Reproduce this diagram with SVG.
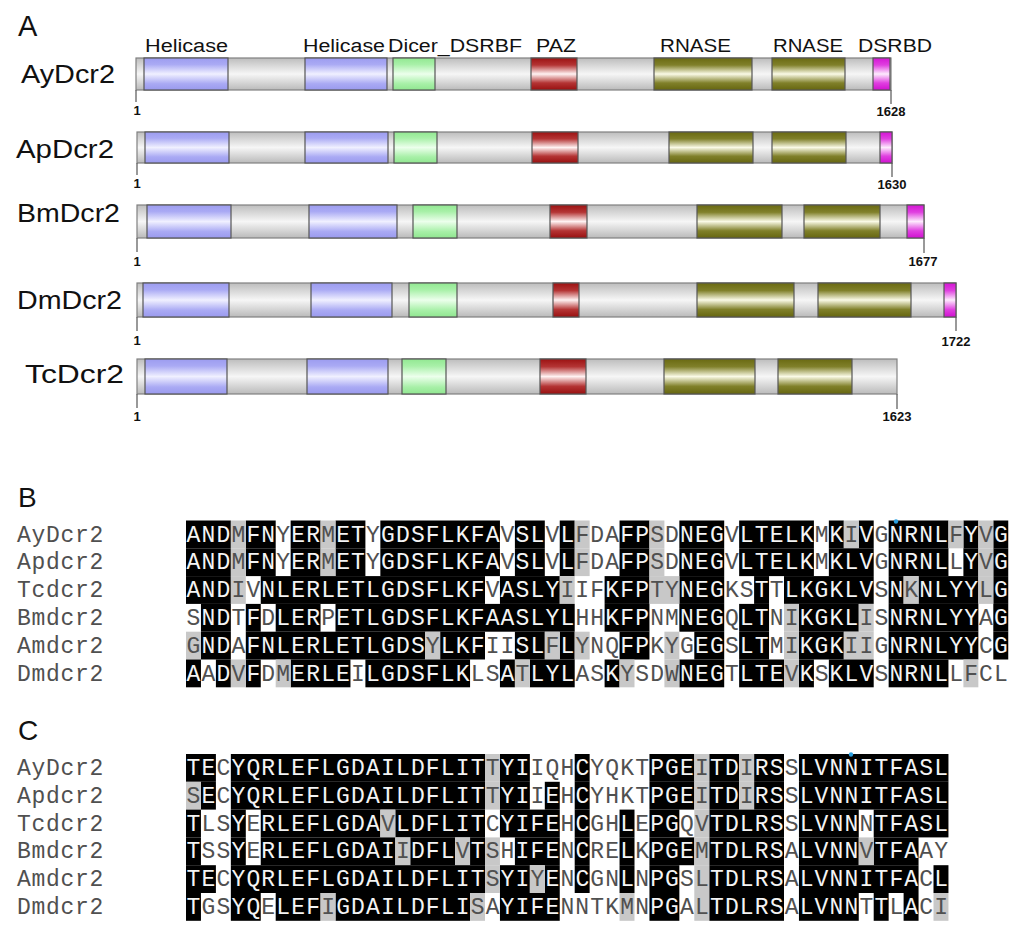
<svg xmlns="http://www.w3.org/2000/svg" width="1024" height="937" viewBox="0 0 1024 937">
<style>
.pa{font-family:"Liberation Sans",Arial,sans-serif;fill:#111}
.dl{font-family:"Liberation Sans",Arial,sans-serif;font-size:18px;fill:#111}
.pl{font-family:"Liberation Sans",Arial,sans-serif;font-size:25px;fill:#111}
.num{font-family:"Liberation Sans",Arial,sans-serif;font-size:13px;font-weight:bold;fill:#111;text-anchor:middle}
.bar{fill:url(#gGray);stroke:#808080;stroke-width:1.2}
.d{stroke:#555;stroke-width:1.2}
.bl{fill:url(#gBlue)}.gr{fill:url(#gGreen)}.rd{fill:url(#gRed)}.ol{fill:url(#gOlive)}.mg{fill:url(#gMag)}
.tk{stroke:#555;stroke-width:1.2}
.k{fill:#000}.g{fill:#c8c8c8}
.seq{font-family:"Liberation Mono","Courier New",monospace;font-size:23px;letter-spacing:1.15px;fill:#505050}
.w{fill:#f4f4f4}
.lab{font-family:"Liberation Mono","Courier New",monospace;font-size:23px;letter-spacing:0.7px;fill:#505050}
</style>
<defs>
<linearGradient id="gGray" x1="0" y1="0" x2="0" y2="1"><stop offset="0" stop-color="#bdbdbd"/><stop offset="0.5" stop-color="#f6f6f6"/><stop offset="1" stop-color="#bababa"/></linearGradient>
<linearGradient id="gBlue" x1="0" y1="0" x2="0" y2="1"><stop offset="0" stop-color="#9c9cf0"/><stop offset="0.2" stop-color="#aaaaf4"/><stop offset="0.5" stop-color="#f0f0ff"/><stop offset="0.8" stop-color="#aaaaf4"/><stop offset="1" stop-color="#9a9aee"/></linearGradient>
<linearGradient id="gGreen" x1="0" y1="0" x2="0" y2="1"><stop offset="0" stop-color="#92e892"/><stop offset="0.2" stop-color="#a8f0a8"/><stop offset="0.5" stop-color="#ecffec"/><stop offset="0.8" stop-color="#a8f0a8"/><stop offset="1" stop-color="#90e690"/></linearGradient>
<linearGradient id="gRed" x1="0" y1="0" x2="0" y2="1"><stop offset="0" stop-color="#9c1212"/><stop offset="0.22" stop-color="#b43434"/><stop offset="0.5" stop-color="#fff2f2"/><stop offset="0.78" stop-color="#b43434"/><stop offset="1" stop-color="#981010"/></linearGradient>
<linearGradient id="gOlive" x1="0" y1="0" x2="0" y2="1"><stop offset="0" stop-color="#6a6a12"/><stop offset="0.22" stop-color="#80802a"/><stop offset="0.5" stop-color="#fafae6"/><stop offset="0.78" stop-color="#80802a"/><stop offset="1" stop-color="#666610"/></linearGradient>
<linearGradient id="gMag" x1="0" y1="0" x2="0" y2="1"><stop offset="0" stop-color="#d414d4"/><stop offset="0.22" stop-color="#e040e0"/><stop offset="0.5" stop-color="#fdeafd"/><stop offset="0.78" stop-color="#e040e0"/><stop offset="1" stop-color="#d010d0"/></linearGradient>
</defs>
<rect width="1024" height="937" fill="#fff"/>

<text class="pa" x="18" y="36" font-size="29">A</text>
<text class="pa" x="18" y="507" font-size="28">B</text>
<text class="pa" x="18" y="740" font-size="28">C</text>

<g id="domain-labels">
<text class="dl" x="145" y="52" textLength="83" lengthAdjust="spacingAndGlyphs">Helicase</text>
<text class="dl" x="303" y="52" textLength="82" lengthAdjust="spacingAndGlyphs">Helicase</text>
<text class="dl" x="388" y="52" textLength="134" lengthAdjust="spacingAndGlyphs">Dicer_DSRBF</text>
<text class="dl" x="536" y="52" textLength="40" lengthAdjust="spacingAndGlyphs">PAZ</text>
<text class="dl" x="660" y="52" textLength="71" lengthAdjust="spacingAndGlyphs">RNASE</text>
<text class="dl" x="773" y="52" textLength="70" lengthAdjust="spacingAndGlyphs">RNASE</text>
<text class="dl" x="858" y="52" textLength="74" lengthAdjust="spacingAndGlyphs">DSRBD</text>
</g>

<g id="AyDcr2">
<text class="pl" x="21" y="83" textLength="94" lengthAdjust="spacingAndGlyphs">AyDcr2</text>
<rect class="bar" x="136" y="58" width="755" height="32"/>
<rect class="d bl" x="144" y="58" width="84" height="32"/>
<rect class="d bl" x="305" y="58" width="82" height="32"/>
<rect class="d gr" x="393" y="58" width="42" height="32"/>
<rect class="d rd" x="531" y="58" width="46" height="32"/>
<rect class="d ol" x="654" y="58" width="98" height="32"/>
<rect class="d ol" x="772" y="58" width="73" height="32"/>
<rect class="d mg" x="873" y="58" width="17" height="32"/>
<line class="tk" x1="136" y1="90" x2="136" y2="102"/>
<line class="tk" x1="891" y1="90" x2="891" y2="104"/>
<text class="num" x="137" y="115">1</text>
<text class="num" x="891" y="116">1628</text>
</g>

<g id="ApDcr2">
<text class="pl" x="16" y="158" textLength="98" lengthAdjust="spacingAndGlyphs">ApDcr2</text>
<rect class="bar" x="137" y="132" width="755" height="31"/>
<rect class="d bl" x="145" y="132" width="84" height="31"/>
<rect class="d bl" x="305" y="132" width="83" height="31"/>
<rect class="d gr" x="394" y="132" width="43" height="31"/>
<rect class="d rd" x="532" y="132" width="46" height="31"/>
<rect class="d ol" x="669" y="132" width="84" height="31"/>
<rect class="d ol" x="772" y="132" width="74" height="31"/>
<rect class="d mg" x="880" y="132" width="12" height="31"/>
<line class="tk" x1="137" y1="163" x2="137" y2="175"/>
<line class="tk" x1="892" y1="163" x2="892" y2="177"/>
<text class="num" x="137" y="188">1</text>
<text class="num" x="892" y="189">1630</text>
</g>

<g id="BmDcr2">
<text class="pl" x="17" y="222" textLength="103" lengthAdjust="spacingAndGlyphs">BmDcr2</text>
<rect class="bar" x="137" y="205" width="787" height="33"/>
<rect class="d bl" x="147" y="205" width="84" height="33"/>
<rect class="d bl" x="309" y="205" width="88" height="33"/>
<rect class="d gr" x="413" y="205" width="44" height="33"/>
<rect class="d rd" x="550" y="205" width="37" height="33"/>
<rect class="d ol" x="697" y="205" width="85" height="33"/>
<rect class="d ol" x="804" y="205" width="76" height="33"/>
<rect class="d mg" x="907" y="205" width="17" height="33"/>
<line class="tk" x1="137" y1="238" x2="137" y2="252"/>
<line class="tk" x1="924" y1="238" x2="924" y2="253"/>
<text class="num" x="137" y="266">1</text>
<text class="num" x="923" y="266">1677</text>
</g>

<g id="DmDcr2">
<text class="pl" x="17" y="309" textLength="105" lengthAdjust="spacingAndGlyphs">DmDcr2</text>
<rect class="bar" x="137" y="283" width="819" height="34"/>
<rect class="d bl" x="143" y="283" width="86" height="34"/>
<rect class="d bl" x="311" y="283" width="81" height="34"/>
<rect class="d gr" x="409" y="283" width="48" height="34"/>
<rect class="d rd" x="553" y="283" width="26" height="34"/>
<rect class="d ol" x="697" y="283" width="97" height="34"/>
<rect class="d ol" x="818" y="283" width="93" height="34"/>
<rect class="d mg" x="944" y="283" width="12" height="34"/>
<line class="tk" x1="137" y1="317" x2="137" y2="331"/>
<line class="tk" x1="956" y1="317" x2="956" y2="331"/>
<text class="num" x="137" y="345">1</text>
<text class="num" x="956" y="346">1722</text>
</g>

<g id="TcDcr2">
<text class="pl" x="25" y="383" textLength="99" lengthAdjust="spacingAndGlyphs">TcDcr2</text>
<rect class="bar" x="137" y="359" width="760" height="35"/>
<rect class="d bl" x="145" y="359" width="82" height="35"/>
<rect class="d bl" x="307" y="359" width="81" height="35"/>
<rect class="d gr" x="402" y="359" width="44" height="35"/>
<rect class="d rd" x="540" y="359" width="46" height="35"/>
<rect class="d ol" x="664" y="359" width="91" height="35"/>
<rect class="d ol" x="778" y="359" width="74" height="35"/>
<line class="tk" x1="137" y1="394" x2="137" y2="408"/>
<line class="tk" x1="897" y1="394" x2="897" y2="409"/>
<text class="num" x="137" y="421">1</text>
<text class="num" x="897" y="421">1623</text>
</g>

<g id="alignment-B">
<g transform="translate(186 0) scale(14.95 1)">
<g transform="translate(0 520.5)">
<rect class="k" x="0" y="0" width="3" height="27.8"/><rect class="k" x="4" y="0" width="2" height="27.8"/><rect class="k" x="7" y="0" width="2" height="27.8"/><rect class="k" x="10" y="0" width="2" height="27.8"/><rect class="k" x="13" y="0" width="8" height="27.8"/><rect class="k" x="22" y="0" width="2" height="27.8"/><rect class="k" x="25" y="0" width="1" height="27.8"/><rect class="k" x="29" y="0" width="2" height="27.8"/><rect class="k" x="33" y="0" width="3" height="27.8"/><rect class="k" x="37" y="0" width="5" height="27.8"/><rect class="k" x="43" y="0" width="1" height="27.8"/><rect class="k" x="45" y="0" width="1" height="27.8"/><rect class="k" x="47" y="0" width="4" height="27.8"/><rect class="k" x="52" y="0" width="1" height="27.8"/><rect class="k" x="54" y="0" width="1" height="27.8"/>
<rect class="g" x="3" y="0" width="1" height="27.8"/><rect class="g" x="9" y="0" width="1" height="27.8"/><rect class="g" x="26" y="0" width="1" height="27.8"/><rect class="g" x="31" y="0" width="1" height="27.8"/><rect class="g" x="44" y="0" width="1" height="27.8"/><rect class="g" x="51" y="0" width="1" height="27.8"/><rect class="g" x="53" y="0" width="1" height="27.8"/>
</g>
<g transform="translate(0 548.3)">
<rect class="k" x="0" y="0" width="3" height="27.8"/><rect class="k" x="4" y="0" width="2" height="27.8"/><rect class="k" x="7" y="0" width="2" height="27.8"/><rect class="k" x="10" y="0" width="2" height="27.8"/><rect class="k" x="13" y="0" width="8" height="27.8"/><rect class="k" x="22" y="0" width="2" height="27.8"/><rect class="k" x="25" y="0" width="1" height="27.8"/><rect class="k" x="29" y="0" width="2" height="27.8"/><rect class="k" x="33" y="0" width="3" height="27.8"/><rect class="k" x="37" y="0" width="5" height="27.8"/><rect class="k" x="43" y="0" width="3" height="27.8"/><rect class="k" x="47" y="0" width="4" height="27.8"/><rect class="k" x="52" y="0" width="1" height="27.8"/><rect class="k" x="54" y="0" width="1" height="27.8"/>
<rect class="g" x="3" y="0" width="1" height="27.8"/><rect class="g" x="9" y="0" width="1" height="27.8"/><rect class="g" x="26" y="0" width="1" height="27.8"/><rect class="g" x="31" y="0" width="1" height="27.8"/><rect class="g" x="53" y="0" width="1" height="27.8"/>
</g>
<g transform="translate(0 576.1)">
<rect class="k" x="0" y="0" width="3" height="27.8"/><rect class="k" x="5" y="0" width="15" height="27.8"/><rect class="k" x="21" y="0" width="4" height="27.8"/><rect class="k" x="28" y="0" width="3" height="27.8"/><rect class="k" x="33" y="0" width="3" height="27.8"/><rect class="k" x="38" y="0" width="1" height="27.8"/><rect class="k" x="40" y="0" width="6" height="27.8"/><rect class="k" x="47" y="0" width="1" height="27.8"/><rect class="k" x="49" y="0" width="4" height="27.8"/><rect class="k" x="54" y="0" width="1" height="27.8"/>
<rect class="g" x="3" y="0" width="1" height="27.8"/><rect class="g" x="25" y="0" width="1" height="27.8"/><rect class="g" x="31" y="0" width="2" height="27.8"/><rect class="g" x="48" y="0" width="1" height="27.8"/><rect class="g" x="53" y="0" width="1" height="27.8"/>
</g>
<g transform="translate(0 603.9)">
<rect class="k" x="1" y="0" width="2" height="27.8"/><rect class="k" x="4" y="0" width="1" height="27.8"/><rect class="k" x="6" y="0" width="3" height="27.8"/><rect class="k" x="10" y="0" width="16" height="27.8"/><rect class="k" x="28" y="0" width="3" height="27.8"/><rect class="k" x="33" y="0" width="3" height="27.8"/><rect class="k" x="37" y="0" width="2" height="27.8"/><rect class="k" x="41" y="0" width="4" height="27.8"/><rect class="k" x="47" y="0" width="6" height="27.8"/><rect class="k" x="54" y="0" width="1" height="27.8"/>
<rect class="g" x="40" y="0" width="1" height="27.8"/><rect class="g" x="45" y="0" width="1" height="27.8"/>
</g>
<g transform="translate(0 631.7)">
<rect class="k" x="1" y="0" width="2" height="27.8"/><rect class="k" x="4" y="0" width="12" height="27.8"/><rect class="k" x="17" y="0" width="3" height="27.8"/><rect class="k" x="22" y="0" width="2" height="27.8"/><rect class="k" x="25" y="0" width="1" height="27.8"/><rect class="k" x="29" y="0" width="2" height="27.8"/><rect class="k" x="34" y="0" width="2" height="27.8"/><rect class="k" x="37" y="0" width="2" height="27.8"/><rect class="k" x="41" y="0" width="3" height="27.8"/><rect class="k" x="47" y="0" width="6" height="27.8"/><rect class="k" x="54" y="0" width="1" height="27.8"/>
<rect class="g" x="0" y="0" width="1" height="27.8"/><rect class="g" x="16" y="0" width="1" height="27.8"/><rect class="g" x="24" y="0" width="1" height="27.8"/><rect class="g" x="26" y="0" width="1" height="27.8"/><rect class="g" x="32" y="0" width="1" height="27.8"/><rect class="g" x="40" y="0" width="1" height="27.8"/><rect class="g" x="44" y="0" width="2" height="27.8"/>
</g>
<g transform="translate(0 659.5)">
<rect class="k" x="0" y="0" width="1" height="27.8"/><rect class="k" x="2" y="0" width="1" height="27.8"/><rect class="k" x="4" y="0" width="1" height="27.8"/><rect class="k" x="7" y="0" width="4" height="27.8"/><rect class="k" x="12" y="0" width="7" height="27.8"/><rect class="k" x="21" y="0" width="1" height="27.8"/><rect class="k" x="23" y="0" width="3" height="27.8"/><rect class="k" x="28" y="0" width="1" height="27.8"/><rect class="k" x="33" y="0" width="3" height="27.8"/><rect class="k" x="37" y="0" width="3" height="27.8"/><rect class="k" x="41" y="0" width="1" height="27.8"/><rect class="k" x="43" y="0" width="3" height="27.8"/><rect class="k" x="47" y="0" width="4" height="27.8"/>
<rect class="g" x="3" y="0" width="1" height="27.8"/><rect class="g" x="6" y="0" width="1" height="27.8"/><rect class="g" x="22" y="0" width="1" height="27.8"/><rect class="g" x="29" y="0" width="1" height="27.8"/><rect class="g" x="32" y="0" width="1" height="27.8"/><rect class="g" x="40" y="0" width="1" height="27.8"/><rect class="g" x="52" y="0" width="1" height="27.8"/>
</g>
</g>
<text class="lab" x="17" y="541.5">AyDcr2</text>
<text class="lab" x="17" y="569.3">Apdcr2</text>
<text class="lab" x="17" y="597.1">Tcdcr2</text>
<text class="lab" x="17" y="624.9">Bmdcr2</text>
<text class="lab" x="17" y="652.7">Amdcr2</text>
<text class="lab" x="17" y="680.5">Dmdcr2</text>
<text class="seq" x="186.6" y="541.5"><tspan class="w">AND</tspan>M<tspan class="w">FN</tspan>Y<tspan class="w">ER</tspan>M<tspan class="w">ET</tspan>Y<tspan class="w">GDSFLKFA</tspan>V<tspan class="w">SL</tspan>V<tspan class="w">L</tspan>FDA<tspan class="w">FP</tspan>SD<tspan class="w">NEG</tspan>V<tspan class="w">LTELK</tspan>M<tspan class="w">K</tspan>I<tspan class="w">V</tspan>G<tspan class="w">NRNL</tspan>F<tspan class="w">Y</tspan>V<tspan class="w">G</tspan></text>
<text class="seq" x="186.6" y="569.3"><tspan class="w">AND</tspan>M<tspan class="w">FN</tspan>Y<tspan class="w">ER</tspan>M<tspan class="w">ET</tspan>Y<tspan class="w">GDSFLKFA</tspan>V<tspan class="w">SL</tspan>V<tspan class="w">L</tspan>FDA<tspan class="w">FP</tspan>SD<tspan class="w">NEG</tspan>V<tspan class="w">LTELK</tspan>M<tspan class="w">KLV</tspan>G<tspan class="w">NRNL</tspan>L<tspan class="w">Y</tspan>V<tspan class="w">G</tspan></text>
<text class="seq" x="186.6" y="597.1"><tspan class="w">AND</tspan>IV<tspan class="w">NLERLETLGDSFLKF</tspan>V<tspan class="w">ASLY</tspan>IIF<tspan class="w">KFP</tspan>TY<tspan class="w">NEG</tspan>KS<tspan class="w">T</tspan>T<tspan class="w">LKGKLV</tspan>S<tspan class="w">N</tspan>K<tspan class="w">NLYY</tspan>L<tspan class="w">G</tspan></text>
<text class="seq" x="186.6" y="624.9">S<tspan class="w">ND</tspan>T<tspan class="w">F</tspan>D<tspan class="w">LER</tspan>P<tspan class="w">ETLGDSFLKFAASLYL</tspan>HH<tspan class="w">KFP</tspan>NM<tspan class="w">NEG</tspan>Q<tspan class="w">LT</tspan>NI<tspan class="w">KGKL</tspan>IS<tspan class="w">NRNLYY</tspan>A<tspan class="w">G</tspan></text>
<text class="seq" x="186.6" y="652.7">G<tspan class="w">ND</tspan>A<tspan class="w">FNLERLETLGDS</tspan>Y<tspan class="w">LKF</tspan>II<tspan class="w">SL</tspan>F<tspan class="w">L</tspan>YNQ<tspan class="w">FP</tspan>KYG<tspan class="w">EG</tspan>S<tspan class="w">LT</tspan>MI<tspan class="w">KGK</tspan>IIG<tspan class="w">NRNLYY</tspan>C<tspan class="w">G</tspan></text>
<text class="seq" x="186.6" y="680.5"><tspan class="w">A</tspan>A<tspan class="w">D</tspan>V<tspan class="w">F</tspan>DM<tspan class="w">ERLE</tspan>I<tspan class="w">LGDSFLK</tspan>LS<tspan class="w">A</tspan>T<tspan class="w">LYL</tspan>AS<tspan class="w">K</tspan>YSDW<tspan class="w">NEG</tspan>T<tspan class="w">LTE</tspan>V<tspan class="w">K</tspan>S<tspan class="w">KLV</tspan>S<tspan class="w">NRNL</tspan>LFCL</text>
<circle cx="896" cy="521.5" r="2.2" fill="#2a9fe0"/>
</g>

<g id="alignment-C">
<g transform="translate(186 0) scale(14.95 1)">
<g transform="translate(0 754)">
<rect class="k" x="0" y="0" width="2" height="27.8"/><rect class="k" x="3" y="0" width="17" height="27.8"/><rect class="k" x="21" y="0" width="2" height="27.8"/><rect class="k" x="26" y="0" width="1" height="27.8"/><rect class="k" x="31" y="0" width="3" height="27.8"/><rect class="k" x="35" y="0" width="2" height="27.8"/><rect class="k" x="38" y="0" width="2" height="27.8"/><rect class="k" x="41" y="0" width="10" height="27.8"/>
<rect class="g" x="20" y="0" width="1" height="27.8"/><rect class="g" x="34" y="0" width="1" height="27.8"/><rect class="g" x="37" y="0" width="1" height="27.8"/>
</g>
<g transform="translate(0 781.8)">
<rect class="k" x="1" y="0" width="1" height="27.8"/><rect class="k" x="3" y="0" width="17" height="27.8"/><rect class="k" x="21" y="0" width="2" height="27.8"/><rect class="k" x="24" y="0" width="1" height="27.8"/><rect class="k" x="26" y="0" width="1" height="27.8"/><rect class="k" x="31" y="0" width="3" height="27.8"/><rect class="k" x="35" y="0" width="2" height="27.8"/><rect class="k" x="38" y="0" width="2" height="27.8"/><rect class="k" x="41" y="0" width="10" height="27.8"/>
<rect class="g" x="0" y="0" width="1" height="27.8"/><rect class="g" x="20" y="0" width="1" height="27.8"/><rect class="g" x="34" y="0" width="1" height="27.8"/><rect class="g" x="37" y="0" width="1" height="27.8"/>
</g>
<g transform="translate(0 809.6)">
<rect class="k" x="0" y="0" width="1" height="27.8"/><rect class="k" x="3" y="0" width="1" height="27.8"/><rect class="k" x="5" y="0" width="8" height="27.8"/><rect class="k" x="14" y="0" width="6" height="27.8"/><rect class="k" x="21" y="0" width="4" height="27.8"/><rect class="k" x="26" y="0" width="1" height="27.8"/><rect class="k" x="29" y="0" width="1" height="27.8"/><rect class="k" x="31" y="0" width="2" height="27.8"/><rect class="k" x="35" y="0" width="5" height="27.8"/><rect class="k" x="41" y="0" width="4" height="27.8"/><rect class="k" x="46" y="0" width="5" height="27.8"/>
<rect class="g" x="13" y="0" width="1" height="27.8"/><rect class="g" x="34" y="0" width="1" height="27.8"/>
</g>
<g transform="translate(0 837.4)">
<rect class="k" x="0" y="0" width="1" height="27.8"/><rect class="k" x="3" y="0" width="1" height="27.8"/><rect class="k" x="5" y="0" width="9" height="27.8"/><rect class="k" x="15" y="0" width="3" height="27.8"/><rect class="k" x="19" y="0" width="1" height="27.8"/><rect class="k" x="22" y="0" width="3" height="27.8"/><rect class="k" x="26" y="0" width="1" height="27.8"/><rect class="k" x="29" y="0" width="1" height="27.8"/><rect class="k" x="31" y="0" width="3" height="27.8"/><rect class="k" x="35" y="0" width="5" height="27.8"/><rect class="k" x="41" y="0" width="4" height="27.8"/><rect class="k" x="46" y="0" width="3" height="27.8"/>
<rect class="g" x="14" y="0" width="1" height="27.8"/><rect class="g" x="18" y="0" width="1" height="27.8"/><rect class="g" x="20" y="0" width="1" height="27.8"/><rect class="g" x="34" y="0" width="1" height="27.8"/><rect class="g" x="45" y="0" width="1" height="27.8"/>
</g>
<g transform="translate(0 865.2)">
<rect class="k" x="0" y="0" width="2" height="27.8"/><rect class="k" x="3" y="0" width="17" height="27.8"/><rect class="k" x="21" y="0" width="2" height="27.8"/><rect class="k" x="24" y="0" width="1" height="27.8"/><rect class="k" x="26" y="0" width="1" height="27.8"/><rect class="k" x="29" y="0" width="1" height="27.8"/><rect class="k" x="31" y="0" width="2" height="27.8"/><rect class="k" x="35" y="0" width="5" height="27.8"/><rect class="k" x="41" y="0" width="8" height="27.8"/><rect class="k" x="50" y="0" width="1" height="27.8"/>
<rect class="g" x="20" y="0" width="1" height="27.8"/><rect class="g" x="23" y="0" width="1" height="27.8"/><rect class="g" x="34" y="0" width="1" height="27.8"/>
</g>
<g transform="translate(0 893)">
<rect class="k" x="0" y="0" width="1" height="27.8"/><rect class="k" x="3" y="0" width="2" height="27.8"/><rect class="k" x="6" y="0" width="3" height="27.8"/><rect class="k" x="10" y="0" width="9" height="27.8"/><rect class="k" x="21" y="0" width="4" height="27.8"/><rect class="k" x="31" y="0" width="2" height="27.8"/><rect class="k" x="35" y="0" width="5" height="27.8"/><rect class="k" x="41" y="0" width="4" height="27.8"/><rect class="k" x="46" y="0" width="1" height="27.8"/><rect class="k" x="48" y="0" width="1" height="27.8"/>
<rect class="g" x="9" y="0" width="1" height="27.8"/><rect class="g" x="19" y="0" width="1" height="27.8"/><rect class="g" x="29" y="0" width="1" height="27.8"/><rect class="g" x="34" y="0" width="1" height="27.8"/><rect class="g" x="50" y="0" width="1" height="27.8"/>
</g>
</g>
<text class="lab" x="17" y="775">AyDcr2</text>
<text class="lab" x="17" y="802.8">Apdcr2</text>
<text class="lab" x="17" y="830.6">Tcdcr2</text>
<text class="lab" x="17" y="858.4">Bmdcr2</text>
<text class="lab" x="17" y="886.2">Amdcr2</text>
<text class="lab" x="17" y="914">Dmdcr2</text>
<text class="seq" x="186.6" y="775"><tspan class="w">TE</tspan>C<tspan class="w">YQRLEFLGDAILDFLIT</tspan>T<tspan class="w">YI</tspan>IQH<tspan class="w">C</tspan>YQKT<tspan class="w">PGE</tspan>I<tspan class="w">TD</tspan>I<tspan class="w">RS</tspan>S<tspan class="w">LVNNITFASL</tspan></text>
<text class="seq" x="186.6" y="802.8">S<tspan class="w">E</tspan>C<tspan class="w">YQRLEFLGDAILDFLIT</tspan>T<tspan class="w">YI</tspan>I<tspan class="w">E</tspan>H<tspan class="w">C</tspan>YHKT<tspan class="w">PGE</tspan>I<tspan class="w">TD</tspan>I<tspan class="w">RS</tspan>S<tspan class="w">LVNNITFASL</tspan></text>
<text class="seq" x="186.6" y="830.6"><tspan class="w">T</tspan>LS<tspan class="w">Y</tspan>E<tspan class="w">RLEFLGDA</tspan>V<tspan class="w">LDFLIT</tspan>C<tspan class="w">YIFE</tspan>H<tspan class="w">C</tspan>GH<tspan class="w">L</tspan>E<tspan class="w">PG</tspan>QV<tspan class="w">TDLRS</tspan>S<tspan class="w">LVNN</tspan>N<tspan class="w">TFASL</tspan></text>
<text class="seq" x="186.6" y="858.4"><tspan class="w">T</tspan>SS<tspan class="w">Y</tspan>E<tspan class="w">RLEFLGDAI</tspan>I<tspan class="w">DFL</tspan>V<tspan class="w">T</tspan>SH<tspan class="w">IFE</tspan>N<tspan class="w">C</tspan>RE<tspan class="w">L</tspan>K<tspan class="w">PGE</tspan>M<tspan class="w">TDLRS</tspan>A<tspan class="w">LVNN</tspan>V<tspan class="w">TFA</tspan>AY</text>
<text class="seq" x="186.6" y="886.2"><tspan class="w">TE</tspan>C<tspan class="w">YQRLEFLGDAILDFLIT</tspan>S<tspan class="w">YI</tspan>Y<tspan class="w">E</tspan>N<tspan class="w">C</tspan>GN<tspan class="w">L</tspan>N<tspan class="w">PG</tspan>SL<tspan class="w">TDLRS</tspan>A<tspan class="w">LVNNITFA</tspan>C<tspan class="w">L</tspan></text>
<text class="seq" x="186.6" y="914"><tspan class="w">T</tspan>GS<tspan class="w">YQ</tspan>E<tspan class="w">LEF</tspan>I<tspan class="w">GDAILDFLI</tspan>SA<tspan class="w">YIFE</tspan>NNTKMN<tspan class="w">PG</tspan>AL<tspan class="w">TDLRS</tspan>A<tspan class="w">LVNN</tspan>T<tspan class="w">T</tspan>L<tspan class="w">A</tspan>CI</text>
<circle cx="851" cy="754.5" r="2.2" fill="#2a9fe0"/>
</g>
</svg>
